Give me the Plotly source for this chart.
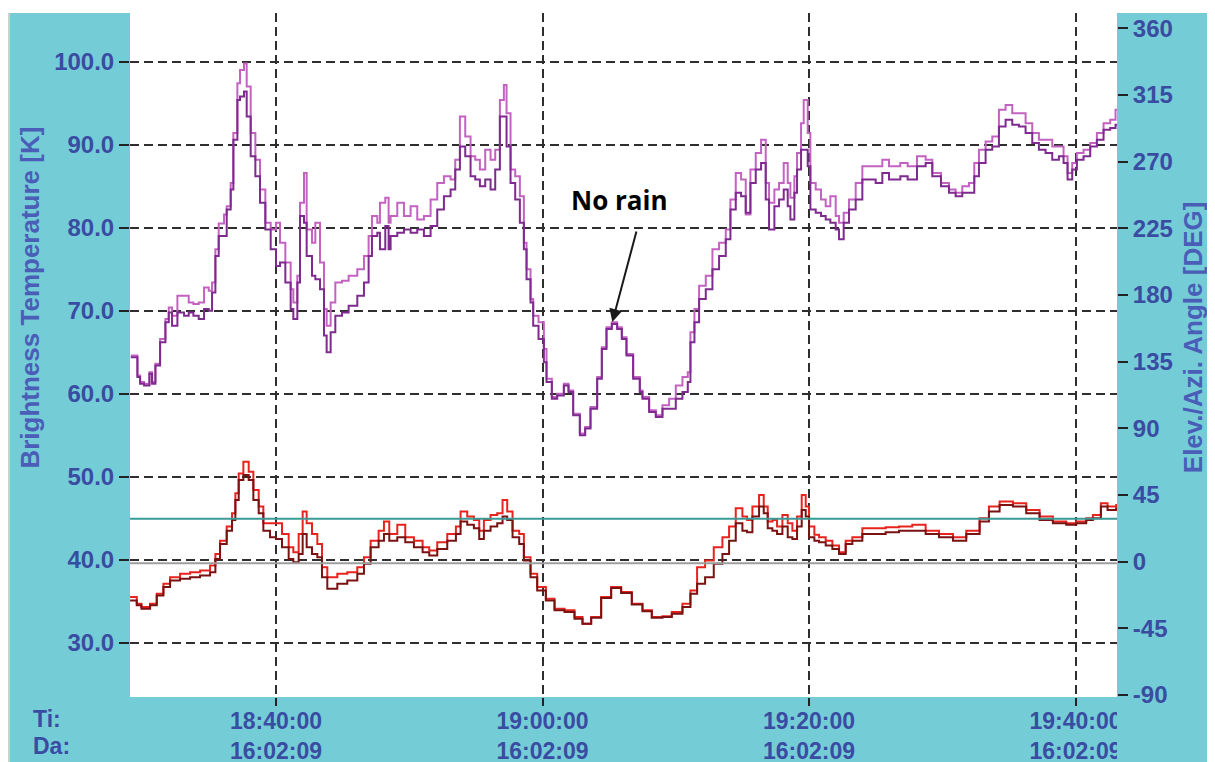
import pandas as pd
import plotly.graph_objects as go

BASE = pd.Timestamp("2016-02-09 18:40:00")

# minutes relative to 18:40:00
t_purple = [-10.9, -10.4, -10.2, -9.9, -9.5, -9.3, -9.05, -8.7, -8.3, -8.05, -7.8, -7.4, -6.9, -6.55, -6.2,
            -5.8, -5.4, -5.05, -4.8, -4.55, -4.3, -3.9, -3.7, -3.4, -3.2, -2.9, -2.7, -2.4, -2.2, -1.9,
            -1.55, -1.2, -0.8, -0.4, 0.0, 0.3, 0.7, 1.1, 1.3, 1.6, 1.8, 2.1, 2.3, 2.7, 2.95,
            3.3, 3.6, 3.8, 4.1, 4.45, 4.95, 5.45, 6.1, 6.6, 6.95, 7.2, 7.6, 7.8, 8.2, 8.45,
            8.6, 9.1, 9.6, 10.1, 10.6, 11.1, 11.6, 12.1, 12.6, 13.1, 13.45, 13.8, 14.2, 14.6, 14.95,
            15.3, 15.7, 16.1, 16.45, 16.8, 17.1, 17.3, 17.6, 17.95, 18.3, 18.6, 18.8, 19.1, 19.3, 19.7,
            20.1, 20.3, 20.7, 21.1, 21.6, 21.95, 22.3, 22.8, 23.2, 23.6, 24.1, 24.45, 24.8, 25.2, 25.6,
            25.95, 26.3, 26.8, 27.3, 27.5, 28.0, 28.5, 29.0, 29.5, 30.0, 30.5, 30.9, 31.1, 31.4, 31.75,
            32.25, 32.75, 33.25, 33.75, 34.1, 34.5, 34.9, 35.25, 35.6, 36.0, 36.4, 36.75, 37.0, 37.4, 37.75,
            38.1, 38.4, 38.6, 38.9, 39.1, 39.4, 39.6, 39.9, 40.1, 40.5, 40.9, 41.25, 41.6, 42.0, 42.25,
            42.6, 43.0, 43.5, 44.0, 44.5, 45.0, 45.5, 46.0, 46.85, 47.4, 48.1, 48.75, 49.25, 49.9, 50.5,
            51.0, 51.5, 52.0, 52.4, 52.75, 53.25, 53.75, 54.25, 54.75, 55.25, 55.75, 56.25, 56.75, 57.25, 57.75,
            58.25, 58.75, 59.1, 59.4, 59.75, 60.1, 60.6, 61.1, 61.6, 62.1, 62.6, 63.0, 63.2]
tb_dark_purple = [64.4, 62.0, 61.2, 61.0, 62.4, 61.2, 63.4, 66.2, 68.6, 69.8, 68.2, 69.8, 69.4, 69.8, 69.4,
                  69.0, 70.2, 70.0, 72.2, 76.6, 79.0, 79.0, 82.2, 84.6, 90.6, 95.4, 95.8, 96.4, 93.4, 88.6,
                  86.2, 83.0, 79.8, 77.4, 75.4, 75.8, 73.4, 70.2, 69.0, 73.4, 81.4, 80.6, 76.6, 74.2, 73.8,
                  72.6, 67.0, 65.0, 67.4, 69.4, 69.8, 70.6, 71.8, 73.4, 76.6, 79.0, 79.4, 77.4, 80.2, 77.4,
                  79.0, 79.4, 79.8, 79.4, 79.8, 79.0, 80.2, 82.2, 83.8, 84.6, 87.0, 89.8, 88.6, 86.2, 85.8,
                  85.0, 85.8, 84.6, 87.0, 93.4, 93.4, 89.8, 85.4, 83.4, 80.6, 77.4, 73.8, 71.0, 68.2, 66.6,
                  63.8, 61.4, 59.4, 59.8, 61.0, 60.2, 57.4, 55.0, 55.8, 58.2, 61.8, 65.4, 67.8, 68.4, 67.8,
                  66.6, 64.6, 61.8, 60.2, 59.4, 57.8, 57.2, 58.2, 58.2, 59.4, 60.2, 61.4, 66.2, 68.6, 71.4,
                  72.6, 75.0, 76.6, 78.6, 82.2, 84.2, 83.8, 81.8, 85.4, 87.0, 87.8, 83.4, 79.8, 82.6, 83.4,
                  84.6, 82.6, 81.0, 84.2, 87.0, 89.4, 89.4, 87.4, 82.2, 81.8, 81.4, 81.0, 80.6, 79.8, 78.6,
                  80.6, 82.2, 83.4, 85.8, 85.8, 85.4, 86.6, 85.8, 86.2, 85.8, 87.4, 87.8, 86.2, 85.0, 84.2,
                  83.8, 84.2, 84.2, 86.2, 87.8, 89.4, 89.8, 92.2, 93.0, 92.4, 92.2, 91.4, 90.2, 89.4, 89.0,
                  88.2, 88.6, 87.8, 85.8, 87.0, 88.2, 88.6, 89.8, 90.6, 91.8, 92.0, 92.4, 92.8]
tb_light_purple = [64.6, 62.2, 61.4, 61.2, 62.6, 61.4, 63.6, 66.6, 69.0, 70.4, 69.4, 71.8, 71.8, 71.0, 70.8,
                   71.0, 72.8, 72.4, 73.4, 77.4, 80.5, 81.6, 82.6, 85.4, 91.4, 97.4, 99.0, 99.8, 97.0, 91.4,
                   88.2, 84.6, 80.6, 79.8, 80.6, 78.2, 75.8, 72.6, 71.0, 74.2, 83.0, 86.6, 79.8, 78.2, 80.6,
                   75.8, 70.2, 68.2, 71.0, 73.4, 73.6, 74.2, 75.0, 76.6, 79.0, 81.4, 80.6, 83.0, 83.6, 80.6,
                   81.4, 83.0, 81.4, 82.6, 81.0, 81.4, 83.4, 85.4, 86.2, 85.8, 88.2, 93.4, 91.0, 88.6, 88.2,
                   87.0, 89.4, 88.2, 89.4, 95.4, 97.2, 93.8, 87.0, 86.2, 83.8, 78.2, 75.0, 71.4, 69.4, 68.6,
                   65.4, 61.8, 59.6, 60.0, 61.2, 60.4, 57.6, 55.2, 56.0, 58.4, 62.0, 65.6, 68.0, 68.6, 68.0,
                   66.8, 64.8, 62.0, 60.4, 59.6, 58.0, 57.4, 58.6, 59.4, 61.0, 62.0, 62.6, 67.4, 70.2, 73.0,
                   74.2, 77.4, 78.2, 79.8, 83.4, 86.6, 85.8, 81.6, 87.0, 89.0, 90.6, 85.4, 83.0, 84.6, 85.4,
                   87.8, 85.4, 83.6, 86.2, 89.0, 92.6, 95.4, 91.4, 85.4, 84.6, 83.4, 82.6, 83.8, 81.4, 80.6,
                   81.8, 83.4, 85.4, 87.4, 87.4, 87.4, 88.2, 87.4, 87.8, 87.4, 88.6, 88.2, 86.6, 85.4, 84.6,
                   84.2, 85.0, 85.4, 87.8, 89.4, 90.4, 91.0, 94.2, 94.8, 93.8, 93.8, 92.6, 91.4, 90.6, 90.6,
                   89.8, 89.8, 88.6, 86.6, 87.8, 89.0, 89.4, 90.2, 91.4, 92.6, 93.0, 94.2, 93.8]

t_red = [-10.95, -10.45, -10.1, -9.45, -8.95, -8.45, -7.95, -7.2, -6.45, -5.7, -4.95, -4.55, -4.2, -3.7, -3.3,
         -3.05, -2.8, -2.45, -2.05, -1.7, -1.3, -0.95, -0.45, 0.0, 0.45, 0.95, 1.3, 1.7, 2.0, 2.3,
         2.7, 3.1, 3.45, 3.85, 4.6, 5.35, 6.1, 6.6, 7.1, 7.7, 8.1, 8.5, 9.1, 9.7, 10.35,
         11.0, 11.5, 12.1, 12.85, 13.5, 13.85, 14.35, 14.85, 15.25, 15.6, 16.1, 16.6, 17.0, 17.35, 17.75,
         18.25, 18.6, 19.1, 19.6, 20.25, 20.9, 21.65, 22.4, 23.0, 23.65, 24.4, 25.15, 25.9, 26.7, 27.5,
         28.2, 29.0, 29.7, 30.5, 31.1, 31.6, 32.2, 32.85, 33.5, 34.0, 34.5, 35.0, 35.35, 35.75, 36.25,
         36.6, 36.9, 37.25, 37.6, 38.0, 38.4, 38.75, 39.1, 39.45, 39.75, 40.0, 40.4, 40.75, 41.25, 41.75,
         42.25, 42.75, 43.25, 44.0, 44.75, 45.75, 46.75, 47.75, 48.75, 49.75, 50.8, 51.8, 52.8, 53.5, 54.3,
         55.3, 56.3, 57.3, 58.3, 59.3, 60.05, 60.8, 61.3, 61.9, 62.4, 63.05, 63.2]
tb_red = [35.5, 34.7, 34.3, 34.7, 35.9, 37.1, 37.9, 38.3, 38.5, 38.7, 39.3, 40.7, 42.3, 44.0, 45.6,
          48.0, 50.4, 51.8, 50.6, 48.4, 46.4, 44.4, 44.4, 44.4, 43.1, 41.5, 40.9, 43.1, 45.8, 44.4,
          43.1, 41.9, 39.1, 37.9, 38.3, 38.5, 39.1, 40.3, 42.3, 43.5, 44.6, 43.1, 44.2, 42.7, 42.3,
          41.5, 41.1, 42.1, 43.1, 44.0, 45.8, 45.2, 44.8, 43.5, 44.8, 45.4, 45.6, 47.2, 45.8, 43.5,
          43.1, 40.3, 38.3, 36.7, 35.3, 34.1, 33.9, 33.1, 32.3, 33.1, 35.5, 36.7, 36.1, 34.7, 33.9,
          33.1, 33.2, 33.7, 34.7, 36.3, 39.1, 39.9, 41.5, 42.7, 44.0, 46.2, 45.2, 44.8, 46.4, 47.8,
          46.4, 44.6, 44.8, 44.0, 45.4, 44.4, 43.5, 45.2, 47.8, 46.4, 44.0, 43.0, 42.7, 42.3, 41.7,
          40.9, 42.3, 42.7, 43.8, 43.8, 43.9, 44.0, 44.2, 43.5, 43.1, 42.7, 43.5, 45.0, 46.4, 47.0,
          46.8, 46.0, 45.2, 44.6, 44.4, 44.6, 45.0, 45.4, 46.8, 46.4, 46.6, 46.6]
tb_dark_red = [35.1, 34.5, 34.1, 34.5, 35.7, 36.7, 37.5, 37.7, 37.9, 38.1, 38.5, 40.1, 41.9, 43.5, 44.8,
               47.2, 49.6, 50.2, 49.6, 47.2, 45.6, 43.5, 42.7, 42.5, 41.5, 40.1, 39.7, 40.7, 43.1, 41.5,
               40.7, 40.3, 37.9, 36.5, 37.1, 37.5, 38.3, 39.5, 41.5, 42.3, 43.1, 42.3, 42.7, 42.1, 41.5,
               40.9, 40.5, 41.3, 42.3, 43.1, 44.6, 44.2, 43.8, 42.5, 43.5, 44.0, 44.4, 45.2, 44.8, 42.7,
               41.9, 39.9, 37.9, 36.3, 35.1, 33.9, 33.7, 32.9, 32.3, 33.0, 35.4, 36.6, 36.0, 34.6, 33.8,
               33.0, 33.1, 33.5, 34.3, 35.9, 37.1, 37.9, 39.5, 40.7, 42.3, 44.4, 43.5, 43.3, 45.2, 46.4,
               45.6, 43.8, 43.5, 43.1, 44.0, 42.7, 42.5, 44.0, 46.0, 45.2, 42.7, 42.3, 42.1, 41.7, 41.3,
               40.7, 41.9, 42.3, 43.1, 43.1, 43.3, 43.5, 43.5, 43.1, 42.7, 42.3, 43.1, 44.6, 45.8, 46.6,
               46.4, 45.6, 44.8, 44.4, 44.2, 44.4, 44.8, 45.0, 46.4, 46.0, 46.2, 46.2]

elev_angle = 29
azi_angle = -1

x_tick_times = ["18:40:00", "19:00:00", "19:20:00", "19:40:00"]
date_label = "16:02:09"
y_tick_vals = [30, 40, 50, 60, 70, 80, 90, 100]
y2_tick_vals = [-90, -45, 0, 45, 90, 135, 180, 225, 270, 315, 360]

x_range_min = [-10.957, 63.11]
y_range = [23.46, 105.87]
y2_range = [-91.35, 370.3]

CYAN = "#74CCD7"
TICK_BLUE = "#3A4CA2"
TITLE_BLUE = "#4A5EB8"
GRID = "#2E2E2E"


def to_time(mins):
    return [BASE + pd.Timedelta(minutes=m) for m in mins]


x_lo, x_hi = to_time(x_range_min)

fig = go.Figure()

# reference lines on the angle axis
fig.add_trace(go.Scatter(x=[x_lo, x_hi], y=[elev_angle, elev_angle], yaxis="y2", mode="lines",
                         line=dict(color="#3A9A96", width=2), hoverinfo="skip"))
fig.add_trace(go.Scatter(x=[x_lo, x_hi], y=[azi_angle, azi_angle], yaxis="y2", mode="lines",
                         line=dict(color="#9E9E9E", width=2), hoverinfo="skip"))

fig.add_trace(go.Scatter(x=to_time(t_purple), y=tb_light_purple, mode="lines",
                         line=dict(color="#C462C2", width=2, shape="hv")))
fig.add_trace(go.Scatter(x=to_time(t_purple), y=tb_dark_purple, mode="lines",
                         line=dict(color="#7E2A8E", width=2, shape="hv")))
fig.add_trace(go.Scatter(x=to_time(t_red), y=tb_red, mode="lines",
                         line=dict(color="#E8231E", width=2, shape="hv")))
fig.add_trace(go.Scatter(x=to_time(t_red), y=tb_dark_red, mode="lines",
                         line=dict(color="#7A1212", width=2, shape="hv")))

x_tick_font = dict(family="Liberation Sans", size=23, color=TICK_BLUE, weight="bold")
y_tick_font = dict(family="Liberation Sans", size=24, color=TICK_BLUE, weight="bold")

# the page body adds an 8 px offset, so the figure is 8 px smaller than the window
fig.update_layout(
    width=1207, height=754, autosize=False,
    margin=dict(l=122, r=98, t=5, b=65, autoexpand=False),
    paper_bgcolor=CYAN, plot_bgcolor="white",
    showlegend=False,
    xaxis=dict(
        type="date", range=[x_lo, x_hi], automargin=False,
        tickmode="array",
        tickvals=[pd.Timestamp(f"2016-02-09 {s}") for s in x_tick_times],
        ticktext=[f"{s}<br>{date_label}" for s in x_tick_times],
        tickfont=x_tick_font, ticklabelstandoff=-5,
        showgrid=True, gridcolor=GRID, griddash="9px,5px", gridwidth=2,
        ticks="outside", ticklen=8, tickwidth=2, tickcolor="#222222",
        zeroline=False, showline=False,
    ),
    yaxis=dict(
        range=y_range, automargin=False, tickmode="array", tickvals=y_tick_vals,
        ticktext=[f"{v:.1f}" for v in y_tick_vals],
        tickfont=y_tick_font,
        showgrid=True, gridcolor=GRID, griddash="9px,5px", gridwidth=2,
        ticks="outside", ticklen=10, tickwidth=2, tickcolor="#222222",
        zeroline=False, showline=False,
    ),
    yaxis2=dict(
        overlaying="y", side="right", range=y2_range, automargin=False,
        tickmode="array", tickvals=y2_tick_vals,
        ticktext=[str(v) for v in y2_tick_vals],
        tickfont=y_tick_font,
        showgrid=False, zeroline=False, showline=False,
        ticks="outside", ticklen=10, tickwidth=2, tickcolor="#222222",
    ),
)

# frame decorations: white top strip, grey left strip, clip of the last time label
fig.add_shape(type="rect", xref="paper", yref="paper", x0=-0.2, x1=1.2, y0=1.0, y1=1.05,
              fillcolor="white", line=dict(width=0), layer="below")
fig.add_shape(type="rect", xref="paper", yref="paper", x0=-0.1236, x1=-0.1216, y0=-0.2, y1=1.0,
              fillcolor="#CFCFCF", line=dict(width=0), layer="below")
fig.add_shape(type="rect", xref="paper", yref="paper", x0=1.0, x1=1.2, y0=-0.2, y1=-0.012,
              fillcolor=CYAN, line=dict(width=0), layer="above")

label_font = dict(family="Liberation Sans", size=23, color=TICK_BLUE, weight="bold")
fig.add_annotation(text="Ti:", xref="paper", yref="paper", x=-0.1, y=-0.032,
                   xanchor="left", yanchor="middle", showarrow=False, font=label_font)
fig.add_annotation(text="Da:", xref="paper", yref="paper", x=-0.1, y=-0.072,
                   xanchor="left", yanchor="middle", showarrow=False, font=label_font)

title_font = dict(family="Liberation Sans", size=26, color=TITLE_BLUE, weight="bold")
fig.add_annotation(text="Brightness Temperature [K]", xref="paper", yref="paper",
                   x=-0.1013, y=0.584, textangle=-90, showarrow=False, font=title_font,
                   xanchor="center", yanchor="middle")
fig.add_annotation(text="Elev./Azi. Angle [DEG]", xref="paper", yref="paper",
                   x=1.077, y=0.526, textangle=-90, showarrow=False, font=title_font,
                   xanchor="center", yanchor="middle")

# "No rain" marker pointing at the local maximum of the dip
window = [i for i, t in enumerate(t_purple) if 24 <= t <= 27]
i_peak = max(window, key=lambda i: tb_dark_purple[i])
tip_x = BASE + pd.Timedelta(minutes=t_purple[i_peak])
tip_y = tb_dark_purple[i_peak]
fig.add_annotation(x=tip_x, y=tip_y, text="", showarrow=True, ax=25, ay=-94,
                   arrowhead=2, arrowsize=1.3, arrowwidth=2, arrowcolor="#1A1A1A",
                   standoff=2)
fig.add_annotation(x=tip_x, y=tip_y, text="No rain", showarrow=False, xshift=8, yshift=124,
                   font=dict(family="Open Sans", size=26, color="black", weight="bold"))

fig.write_html("out.html")
